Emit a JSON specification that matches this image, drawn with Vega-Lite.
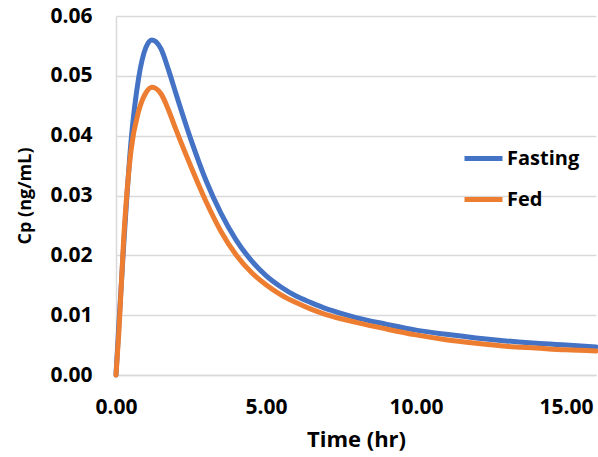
{
  "$schema": "https://vega.github.io/schema/vega-lite/v6.json",
  "width": 480,
  "height": 359,
  "autosize": "none",
  "padding": {"left": 116, "top": 16, "right": 2, "bottom": 82},
  "background": "white",
  "config": {
    "view": {"stroke": null},
    "font": "Open Sans"
  },
  "data": {
    "values": [
      {"t": 0, "Cp": 0, "group": "Fasting"},
      {"t": 0.1, "Cp": 0.0088, "group": "Fasting"},
      {"t": 0.25, "Cp": 0.0212, "group": "Fasting"},
      {"t": 0.5, "Cp": 0.039, "group": "Fasting"},
      {"t": 0.75, "Cp": 0.0495, "group": "Fasting"},
      {"t": 1.0, "Cp": 0.0548, "group": "Fasting"},
      {"t": 1.2, "Cp": 0.0560, "group": "Fasting"},
      {"t": 1.5, "Cp": 0.0545, "group": "Fasting"},
      {"t": 1.75, "Cp": 0.0510, "group": "Fasting"},
      {"t": 2.0, "Cp": 0.0470, "group": "Fasting"},
      {"t": 2.5, "Cp": 0.0393, "group": "Fasting"},
      {"t": 3.0, "Cp": 0.0325, "group": "Fasting"},
      {"t": 3.5, "Cp": 0.0270, "group": "Fasting"},
      {"t": 4.0, "Cp": 0.0226, "group": "Fasting"},
      {"t": 4.5, "Cp": 0.0192, "group": "Fasting"},
      {"t": 5.0, "Cp": 0.0166, "group": "Fasting"},
      {"t": 5.5, "Cp": 0.0147, "group": "Fasting"},
      {"t": 6.0, "Cp": 0.0132, "group": "Fasting"},
      {"t": 6.5, "Cp": 0.0121, "group": "Fasting"},
      {"t": 7.0, "Cp": 0.0111, "group": "Fasting"},
      {"t": 7.5, "Cp": 0.0103, "group": "Fasting"},
      {"t": 8.0, "Cp": 0.0096, "group": "Fasting"},
      {"t": 9.0, "Cp": 0.0085, "group": "Fasting"},
      {"t": 10.0, "Cp": 0.0075, "group": "Fasting"},
      {"t": 11.0, "Cp": 0.0068, "group": "Fasting"},
      {"t": 12.0, "Cp": 0.0062, "group": "Fasting"},
      {"t": 13.0, "Cp": 0.0057, "group": "Fasting"},
      {"t": 14.0, "Cp": 0.0053, "group": "Fasting"},
      {"t": 15.0, "Cp": 0.0050, "group": "Fasting"},
      {"t": 16.0, "Cp": 0.0047, "group": "Fasting"},
      {"t": 0, "Cp": 0, "group": "Fed"},
      {"t": 0.1, "Cp": 0.0075, "group": "Fed"},
      {"t": 0.25, "Cp": 0.0222, "group": "Fed"},
      {"t": 0.5, "Cp": 0.0375, "group": "Fed"},
      {"t": 0.75, "Cp": 0.0440, "group": "Fed"},
      {"t": 1.0, "Cp": 0.0472, "group": "Fed"},
      {"t": 1.2, "Cp": 0.0481, "group": "Fed"},
      {"t": 1.5, "Cp": 0.0470, "group": "Fed"},
      {"t": 1.75, "Cp": 0.0443, "group": "Fed"},
      {"t": 2.0, "Cp": 0.0410, "group": "Fed"},
      {"t": 2.5, "Cp": 0.0348, "group": "Fed"},
      {"t": 3.0, "Cp": 0.0290, "group": "Fed"},
      {"t": 3.5, "Cp": 0.0240, "group": "Fed"},
      {"t": 4.0, "Cp": 0.0201, "group": "Fed"},
      {"t": 4.5, "Cp": 0.0172, "group": "Fed"},
      {"t": 5.0, "Cp": 0.0151, "group": "Fed"},
      {"t": 5.5, "Cp": 0.0134, "group": "Fed"},
      {"t": 6.0, "Cp": 0.0121, "group": "Fed"},
      {"t": 6.5, "Cp": 0.0110, "group": "Fed"},
      {"t": 7.0, "Cp": 0.0101, "group": "Fed"},
      {"t": 7.5, "Cp": 0.0094, "group": "Fed"},
      {"t": 8.0, "Cp": 0.0088, "group": "Fed"},
      {"t": 9.0, "Cp": 0.0077, "group": "Fed"},
      {"t": 10.0, "Cp": 0.0067, "group": "Fed"},
      {"t": 11.0, "Cp": 0.0059, "group": "Fed"},
      {"t": 12.0, "Cp": 0.0053, "group": "Fed"},
      {"t": 13.0, "Cp": 0.0048, "group": "Fed"},
      {"t": 14.0, "Cp": 0.0045, "group": "Fed"},
      {"t": 15.0, "Cp": 0.0042, "group": "Fed"},
      {"t": 16.0, "Cp": 0.0040, "group": "Fed"}
    ]
  },
  "mark": {"type": "line", "interpolate": "monotone", "strokeWidth": 5, "strokeCap": "round"},
  "encoding": {
    "x": {
      "field": "t", "type": "quantitative", "title": "Time (hr)",
      "scale": {"domain": [0, 16], "nice": false, "zero": true},
      "axis": {
        "values": [0, 5, 10, 15], "format": ".2f", "grid": false,
        "ticks": false, "domainColor": "#d9d9d9", "domainWidth": 1.5,
        "labelFont": "Open Sans", "labelFontWeight": "bold", "labelFontSize": 21, "labelColor": "black",
        "labelPadding": 21, "labelFlush": false,
        "titleFont": "Open Sans", "titleFontWeight": "bold", "titleFontSize": 22, "titleColor": "black",
        "titlePadding": 12
      }
    },
    "y": {
      "field": "Cp", "type": "quantitative", "title": "Cp (ng/mL)",
      "scale": {"domain": [0, 0.06], "nice": false},
      "axis": {
        "values": [0, 0.01, 0.02, 0.03, 0.04, 0.05, 0.06], "format": ".2f",
        "grid": true, "gridColor": "#d9d9d9", "gridWidth": 1.5,
        "ticks": false, "domainColor": "#d9d9d9", "domainWidth": 1.5,
        "labelFont": "Open Sans", "labelFontWeight": "bold", "labelFontSize": 21, "labelColor": "black",
        "labelPadding": 24,
        "titleFont": "Open Sans", "titleFontWeight": "bold", "titleFontSize": 18, "titleColor": "black",
        "titlePadding": 15
      }
    },
    "color": {
      "field": "group", "type": "nominal", "title": null,
      "scale": {"domain": ["Fasting", "Fed"], "range": ["#4472C4", "#ED7D31"]},
      "legend": {
        "orient": "none", "legendX": 346, "legendY": 121,
        "symbolType": "stroke", "symbolSize": 1444, "symbolStrokeWidth": 5,
        "labelFont": "Open Sans", "labelFontWeight": "bold", "labelFontSize": 20, "labelColor": "black",
        "labelOffset": 2, "rowPadding": 9
      }
    }
  }
}
